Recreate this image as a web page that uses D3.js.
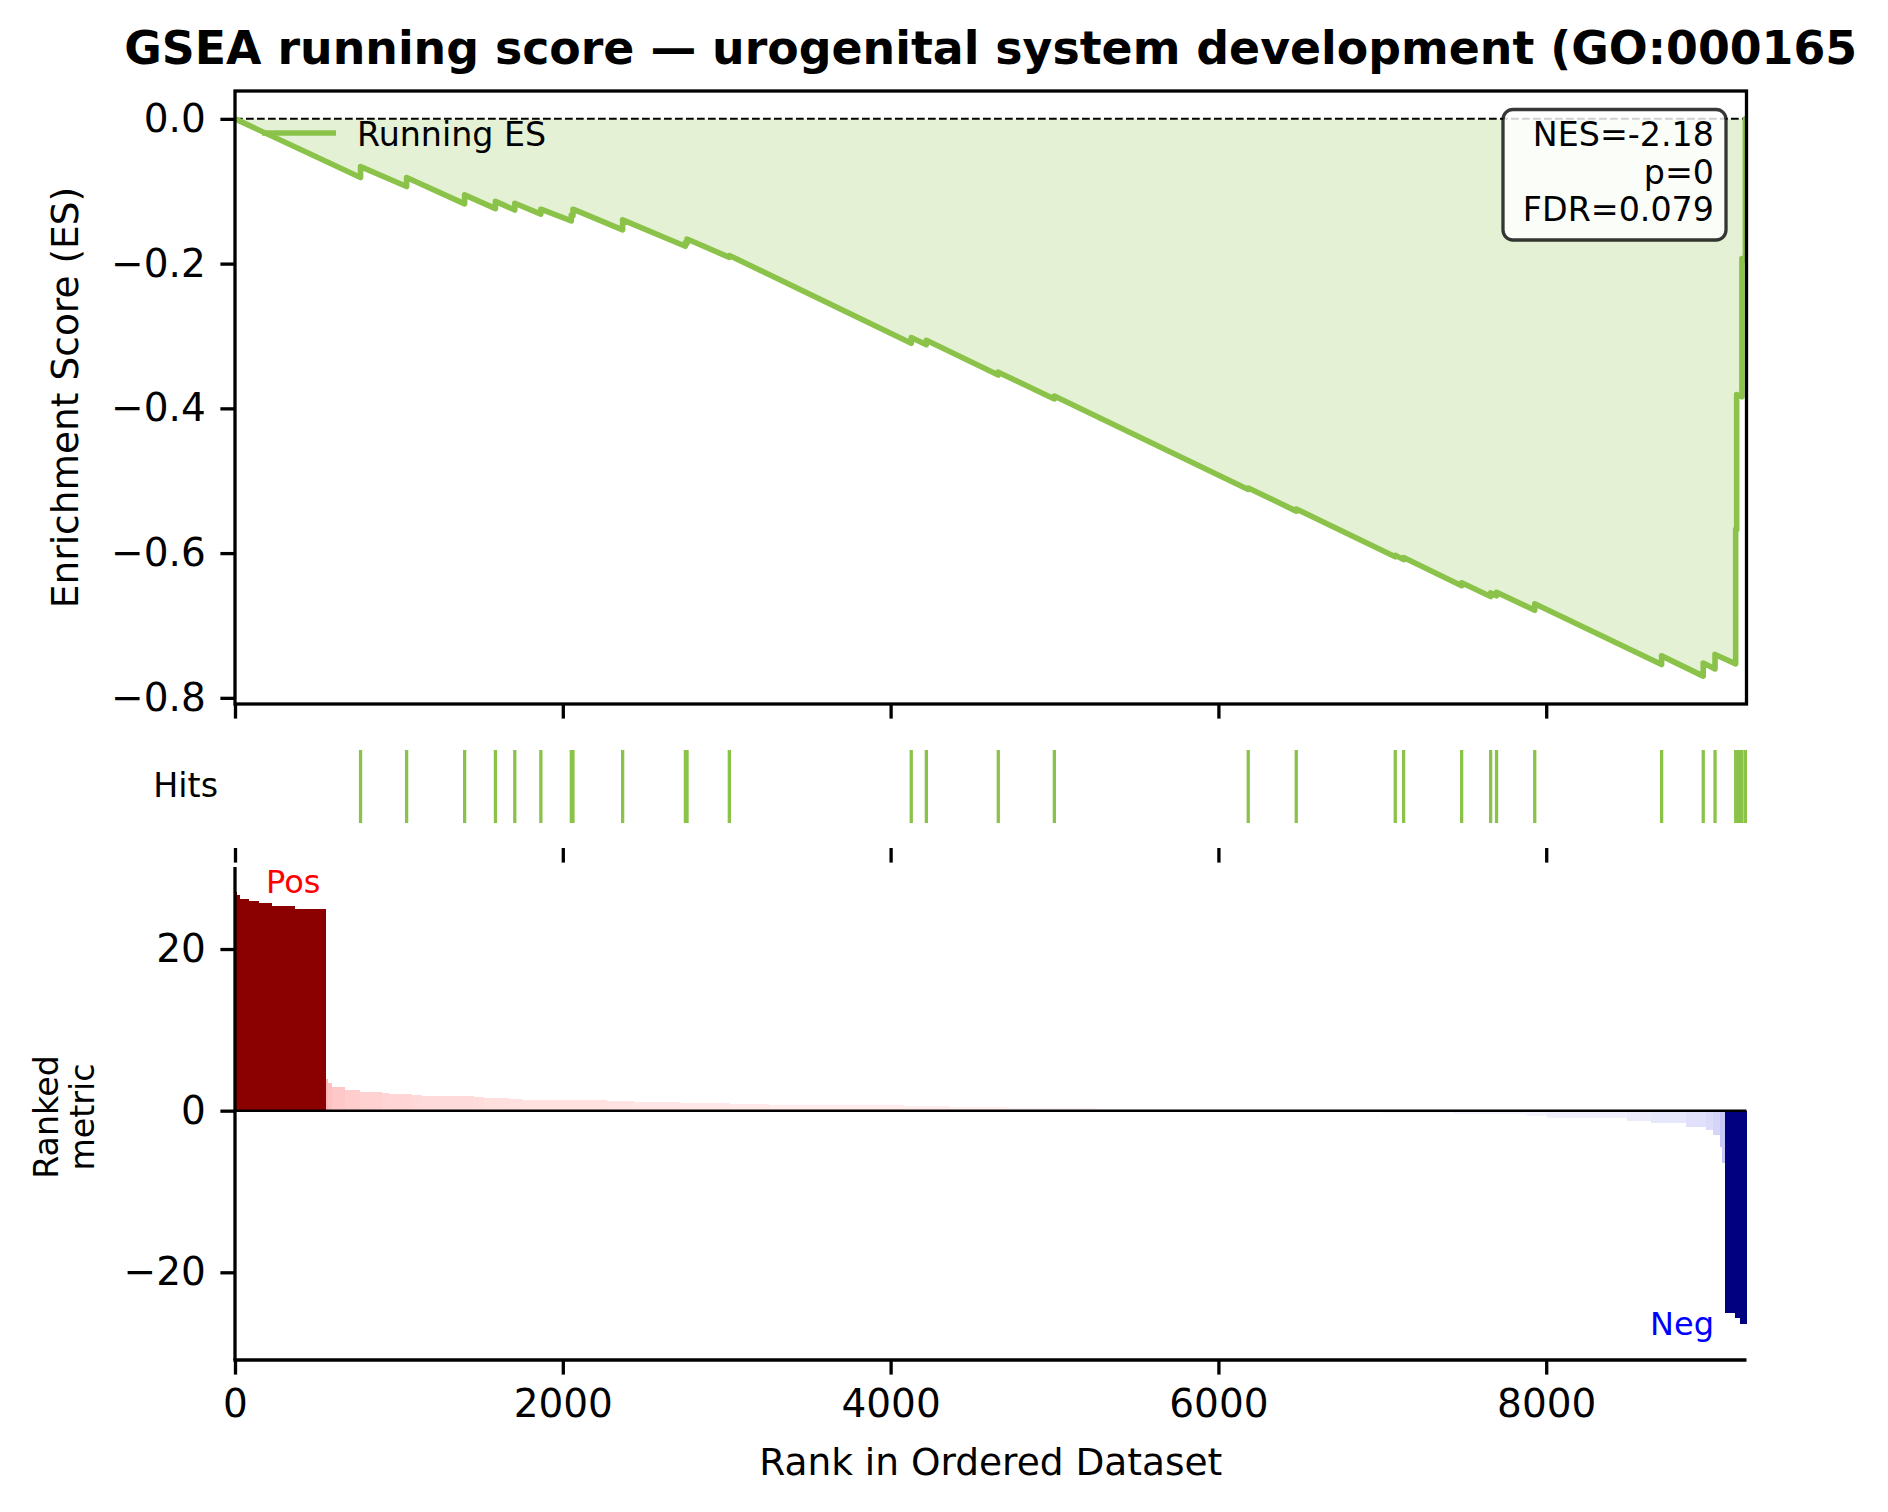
<!DOCTYPE html>
<html>
<head>
<meta charset="utf-8">
<script src="https://cdn.jsdelivr.net/npm/d3@7"></script>
<style>
  body { margin: 0; background: #fff; }
  text { font-family: "DejaVu Sans", sans-serif; }
</style>
</head>
<body>
<svg id="chart" width="1888" height="1512"></svg>
<script>
// ---- data ----
const nGenes = 9222
const titleText = "GSEA running score \u2014 urogenital system development (GO:000165"
const statLines = ["NES=-2.18", "p=0", "FDR=0.079"]

// running enrichment score: vertices (rank, ES) before / after each hit
const esRank = [0,
    766, 766, 1047, 1047, 1401, 1401, 1589, 1589, 1707, 1707, 1866, 1866,
    2052, 2052, 2062, 2062, 2365, 2365, 2748, 2748, 2758, 2758, 3016, 3016,
    4126, 4126, 4218, 4218, 4657, 4657, 4999, 4999, 6182, 6182, 6475, 6475,
    7079, 7079, 7130, 7130, 7484, 7484, 7661, 7661, 7697, 7697, 7930, 7930,
    8704, 8704, 8958, 8958, 9030, 9030, 9156, 9156, 9162, 9162, 9194, 9194,
    9215, 9215, 9222]
const esValue = [0,
    -0.081, -0.066, -0.0935, -0.081, -0.1175, -0.105, -0.124, -0.114, -0.126, -0.1166, -0.1317, -0.1248,
    -0.141, -0.133, -0.134, -0.1248, -0.1534, -0.1396, -0.176, -0.171, -0.172, -0.166, -0.1914, -0.1887,
    -0.310, -0.302, -0.312, -0.306, -0.354, -0.350, -0.387, -0.383, -0.512, -0.510, -0.542, -0.539,
    -0.605, -0.603, -0.609, -0.606, -0.645, -0.641, -0.660, -0.655, -0.659, -0.654, -0.679, -0.670,
    -0.754, -0.742, -0.770, -0.752, -0.760, -0.740, -0.753, -0.567, -0.568, -0.381, -0.384, -0.193,
    -0.195, 0, -0.001]

// gene set members in the ranked list
const hitRanks = [766, 1047, 1401, 1589, 1707, 1866, 2052, 2062, 2365, 2748, 2758, 3016,
    4126, 4218, 4657, 4999, 6182, 6475, 7079, 7130, 7484, 7661, 7697, 7930,
    8704, 8958, 9030, 9156, 9162, 9170, 9178, 9186, 9194, 9215]

// ranked metric, as runs of roughly equal value
const metricFrom = [0, 10, 30, 85, 142, 226, 366, 555, 565, 590, 671, 763, 895, 935, 1078, 1139,
    1454, 1515, 1668, 1749, 2268, 2430, 2715, 3020, 3256, 4080, 4354, 4710, 5259, 5900,
    6500, 7000, 7437, 7884, 8006, 8494, 8637, 8851, 8973, 9019, 9060, 9075, 9090, 9151, 9182]
const metricTo = [10, 30, 85, 142, 226, 366, 555, 565, 590, 671, 763, 895, 935, 1078, 1139, 1454,
    1515, 1668, 1749, 2268, 2430, 2715, 3020, 3256, 4080, 4354, 4710, 5259, 5900, 6500,
    7000, 7437, 7884, 8006, 8494, 8637, 8851, 8973, 9019, 9060, 9075, 9090, 9151, 9182, 9222]
const metricValue = [27.0, 26.7, 26.2, 25.9, 25.7, 25.35, 24.95, 3.9, 3.4, 2.9, 2.56, 2.3, 2.15, 2.07, 1.9, 1.78,
    1.66, 1.53, 1.41, 1.29, 1.16, 1.08, 0.91, 0.83, 0.7, 0.58, 0.46, 0.33, 0.15, 0.05,
    -0.1, -0.25, -0.45, -0.6, -0.95, -1.24, -1.56, -1.98, -2.4, -3.0, -4.5, -6.5, -25.0, -25.6, -26.4]

const rankTicks = [0, 2000, 4000, 6000, 8000]
const esTicks = [0, -0.2, -0.4, -0.6, -0.8]
const metricTicks = [20, 0, -20]

// ---- layout ----
const green = "#8bc34a"
const axLeft = 235, axRight = 1746.5
const esTop = 91, esBottom = 704
const hitTop = 750, hitLineEnd = 823, hitBottom = 848
const mTop = 867, mBottom = 1360
const tickLen = 14.6, tickW = 3.3, tickFont = 39

const svg = d3.select("#chart")

const x = d3.scaleLinear().domain([0, nGenes]).range([axLeft, axRight])
const yES = d3.scaleLinear().domain([-0.8085, 0.0385]).range([esBottom, esTop])
const yM = d3.scaleLinear().domain([-30.85, 30.15]).range([mBottom, mTop])

function styleAxis(g) {
    g.select(".domain").remove()
    g.selectAll(".tick line").attr("stroke", "#000").attr("stroke-width", tickW)
    g.selectAll(".tick text").attr("fill", "#000")
        .style("font-size", tickFont + "px").style("font-family", "DejaVu Sans")
}

// title
svg.append("text")
    .attr("x", (axLeft + axRight) / 2)
    .attr("y", 64)
    .attr("text-anchor", "middle")
    .style("font-size", "45.8px")
    .style("font-weight", "bold")
    .text(titleText)

// ---- running ES panel ----
svg.append("clipPath").attr("id", "esClip")
    .append("rect").attr("x", axLeft).attr("y", esTop)
    .attr("width", axRight - axLeft).attr("height", esBottom - esTop)

const esPts = esRank.map((r, i) => [r, esValue[i]])
const esG = svg.append("g").attr("clip-path", "url(#esClip)")

esG.append("path")
    .datum(esPts)
    .attr("fill", green)
    .attr("fill-opacity", 0.23)
    .attr("d", d3.area().x(d => x(d[0])).y0(yES(0)).y1(d => yES(d[1])))

esG.append("line")
    .attr("x1", axLeft).attr("x2", axRight)
    .attr("y1", yES(0)).attr("y2", yES(0))
    .attr("stroke", "#000").attr("stroke-width", 2)
    .attr("stroke-dasharray", "7.7,3.3")

esG.append("path")
    .datum(esPts)
    .attr("fill", "none")
    .attr("stroke", green)
    .attr("stroke-width", 5.6)
    .attr("stroke-linejoin", "round")
    .attr("d", d3.line().x(d => x(d[0])).y(d => yES(d[1])))

// legend
svg.append("line")
    .attr("x1", 262).attr("x2", 336).attr("y1", 133).attr("y2", 133)
    .attr("stroke", green).attr("stroke-width", 5.6)
svg.append("text")
    .attr("x", 357).attr("y", 146)
    .style("font-size", "33.3px")
    .text("Running ES")

// stats box
svg.append("rect")
    .attr("x", 1503).attr("y", 109.5).attr("width", 223).attr("height", 130.5)
    .attr("rx", 10).attr("ry", 10)
    .attr("fill", "#fff").attr("fill-opacity", 0.82)
    .attr("stroke", "#000").attr("stroke-opacity", 0.78).attr("stroke-width", 3.3)
svg.append("g").selectAll("text")
    .data(statLines)
    .join("text")
    .attr("x", 1714)
    .attr("y", (d, i) => 146 + i * 37.5)
    .attr("text-anchor", "end")
    .style("font-size", "33.3px")
    .text(d => d)

svg.append("g")
    .attr("transform", `translate(0,${esBottom})`)
    .call(d3.axisBottom(x).tickValues(rankTicks).tickSize(tickLen).tickFormat(""))
    .call(styleAxis)

svg.append("g")
    .attr("transform", `translate(${axLeft},0)`)
    .call(d3.axisLeft(yES).tickValues(esTicks).tickSize(tickLen).tickPadding(tickLen)
        .tickFormat(d3.format(".1f")))
    .call(styleAxis)

svg.append("rect")
    .attr("x", axLeft).attr("y", esTop)
    .attr("width", axRight - axLeft).attr("height", esBottom - esTop)
    .attr("fill", "none").attr("stroke", "#000").attr("stroke-width", tickW)

svg.append("text")
    .attr("transform", `translate(78,${(esTop + esBottom) / 2}) rotate(-90)`)
    .attr("text-anchor", "middle")
    .style("font-size", "37.5px")
    .text("Enrichment Score (ES)")

// ---- hits strip ----
svg.append("g").selectAll("line")
    .data(hitRanks)
    .join("line")
    .attr("x1", d => x(d)).attr("x2", d => x(d))
    .attr("y1", hitTop).attr("y2", hitLineEnd)
    .attr("stroke", green).attr("stroke-width", 3.3)

svg.append("g")
    .attr("transform", `translate(0,${hitBottom})`)
    .call(d3.axisBottom(x).tickValues(rankTicks).tickSize(tickLen).tickFormat(""))
    .call(styleAxis)

svg.append("text")
    .attr("x", 218).attr("y", 797)
    .attr("text-anchor", "end")
    .style("font-size", "33.3px")
    .text("Hits")

// ---- ranked metric panel ----
const pink = d3.scaleLinear().domain([0, 4]).range(["#fff6f6", "#ffb6b6"]).clamp(true)
const lilac = d3.scaleLinear().domain([0, -4]).range(["#fafaff", "#c8c8f6"]).clamp(true)
function barColor(v) {
    if (v > 10) return "#8b0000"
    if (v < -10) return "#000080"
    return v >= 0 ? pink(v) : lilac(v)
}

svg.append("g").selectAll("rect")
    .data(metricValue.map((v, i) => ({from: metricFrom[i], to: metricTo[i], v: v})))
    .join("rect")
    .attr("x", d => x(d.from))
    .attr("width", d => x(d.to) - x(d.from) + 0.4)
    .attr("y", d => yM(Math.max(0, d.v)))
    .attr("height", d => Math.abs(yM(d.v) - yM(0)))
    .attr("fill", d => barColor(d.v))
    .attr("shape-rendering", "crispEdges")

svg.append("line")
    .attr("x1", axLeft).attr("x2", axRight)
    .attr("y1", yM(0)).attr("y2", yM(0))
    .attr("stroke", "#000").attr("stroke-width", 2.5)

svg.append("g")
    .attr("transform", `translate(0,${mBottom})`)
    .call(d3.axisBottom(x).tickValues(rankTicks).tickSize(tickLen).tickPadding(tickLen)
        .tickFormat(d3.format("d")))
    .call(styleAxis)

svg.append("g")
    .attr("transform", `translate(${axLeft},0)`)
    .call(d3.axisLeft(yM).tickValues(metricTicks).tickSize(tickLen).tickPadding(tickLen)
        .tickFormat(d3.format("d")))
    .call(styleAxis)

svg.append("line")
    .attr("x1", axLeft).attr("x2", axLeft).attr("y1", mTop).attr("y2", mBottom)
    .attr("stroke", "#000").attr("stroke-width", tickW)
svg.append("line")
    .attr("x1", axLeft - tickW / 2).attr("x2", axRight).attr("y1", mBottom).attr("y2", mBottom)
    .attr("stroke", "#000").attr("stroke-width", tickW)

svg.append("text")
    .attr("x", 266).attr("y", 893)
    .attr("fill", "red")
    .style("font-size", "32px")
    .text("Pos")
svg.append("text")
    .attr("x", 1714).attr("y", 1335)
    .attr("text-anchor", "end")
    .attr("fill", "blue")
    .style("font-size", "32px")
    .text("Neg")

const rk = svg.append("text")
    .attr("text-anchor", "middle")
    .style("font-size", "33.3px")
rk.append("tspan").attr("x", 0).attr("y", 0).text("Ranked")
rk.append("tspan").attr("x", 0).attr("y", 36).text("metric")
rk.attr("transform", `translate(58,1117) rotate(-90)`)

svg.append("text")
    .attr("x", (axLeft + axRight) / 2).attr("y", 1475)
    .attr("text-anchor", "middle")
    .style("font-size", "37.5px")
    .text("Rank in Ordered Dataset")
</script>
</body>
</html>
